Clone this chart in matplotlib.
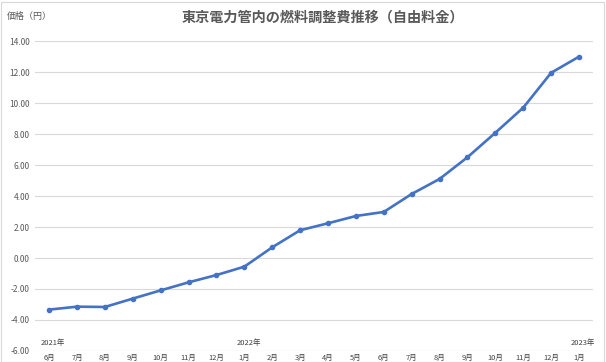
import matplotlib
matplotlib.use('Agg')
import matplotlib.pyplot as plt
import matplotlib.transforms as mtransforms
from matplotlib.patches import Rectangle

plt.rcParams['font.family'] = ['Noto Sans CJK JP', 'DejaVu Sans']

months = ['6月', '7月', '8月', '9月', '10月', '11月', '12月',
          '1月', '2月', '3月', '4月', '5月', '6月', '7月', '8月', '9月', '10月', '11月', '12月',
          '1月']
years = ['2021年', '2022年', '2023年']
year_idx = [0, 7, 19]
prices = [-3.33, -3.14, -3.16, -2.62, -2.09, -1.57, -1.10, -0.56, 0.69, 1.79, 2.24,
          2.71, 2.97, 4.13, 5.10, 6.50, 8.08, 9.70, 11.95, 12.99]
yticks = [-6, -4, -2, 0, 2, 4, 6, 8, 10, 12, 14]

gray = '#595959'
dark = '#404040'
blue = '#4472C4'

fig = plt.figure(figsize=(6.06, 3.62), dpi=100)
ax = fig.add_axes([0.058, 0.0304, 0.9205, 0.8563])

x = list(range(len(prices)))
ax.plot(x, prices, color=blue, lw=1.9, marker='o', ms=3, zorder=3)

ax.set_xlim(-0.5, len(prices) - 0.5)
ax.set_ylim(-6, 14)
ax.set_yticks(yticks)
ax.set_yticklabels(['%.2f' % v for v in yticks], fontsize=6, color=gray)
ax.set_xticks(x)
ax.set_xticklabels(months, fontsize=5.4, color=dark)
ax.tick_params(axis='both', length=0)
ax.tick_params(axis='x', pad=2)
ax.tick_params(axis='y', pad=4)
ax.grid(axis='y', color='#D9D9D9', lw=0.8)
ax.set_axisbelow(True)
for s in ax.spines.values():
    s.set_visible(False)

trans = mtransforms.blended_transform_factory(ax.transData, ax.transAxes)
for i, yr in zip(year_idx, years):
    ax.text(i + 0.15, 0.012, yr, transform=trans, ha='center', va='bottom',
            fontsize=5.4, color=dark)

fig.text(0.533, 0.952, '東京電力管内の燃料調整費推移（自由料金）', ha='center', va='center',
         fontsize=10.2, fontweight='bold', color=gray)
fig.text(0.011, 0.955, '価格（円）', ha='left', va='center', fontsize=6.5, color=gray)

fig.patches.append(Rectangle((0.001, 0.001), 0.996, 0.994, transform=fig.transFigure,
                             fill=False, edgecolor='#D9D9D9', lw=0.8))

fig.savefig('out.png', dpi=100)
